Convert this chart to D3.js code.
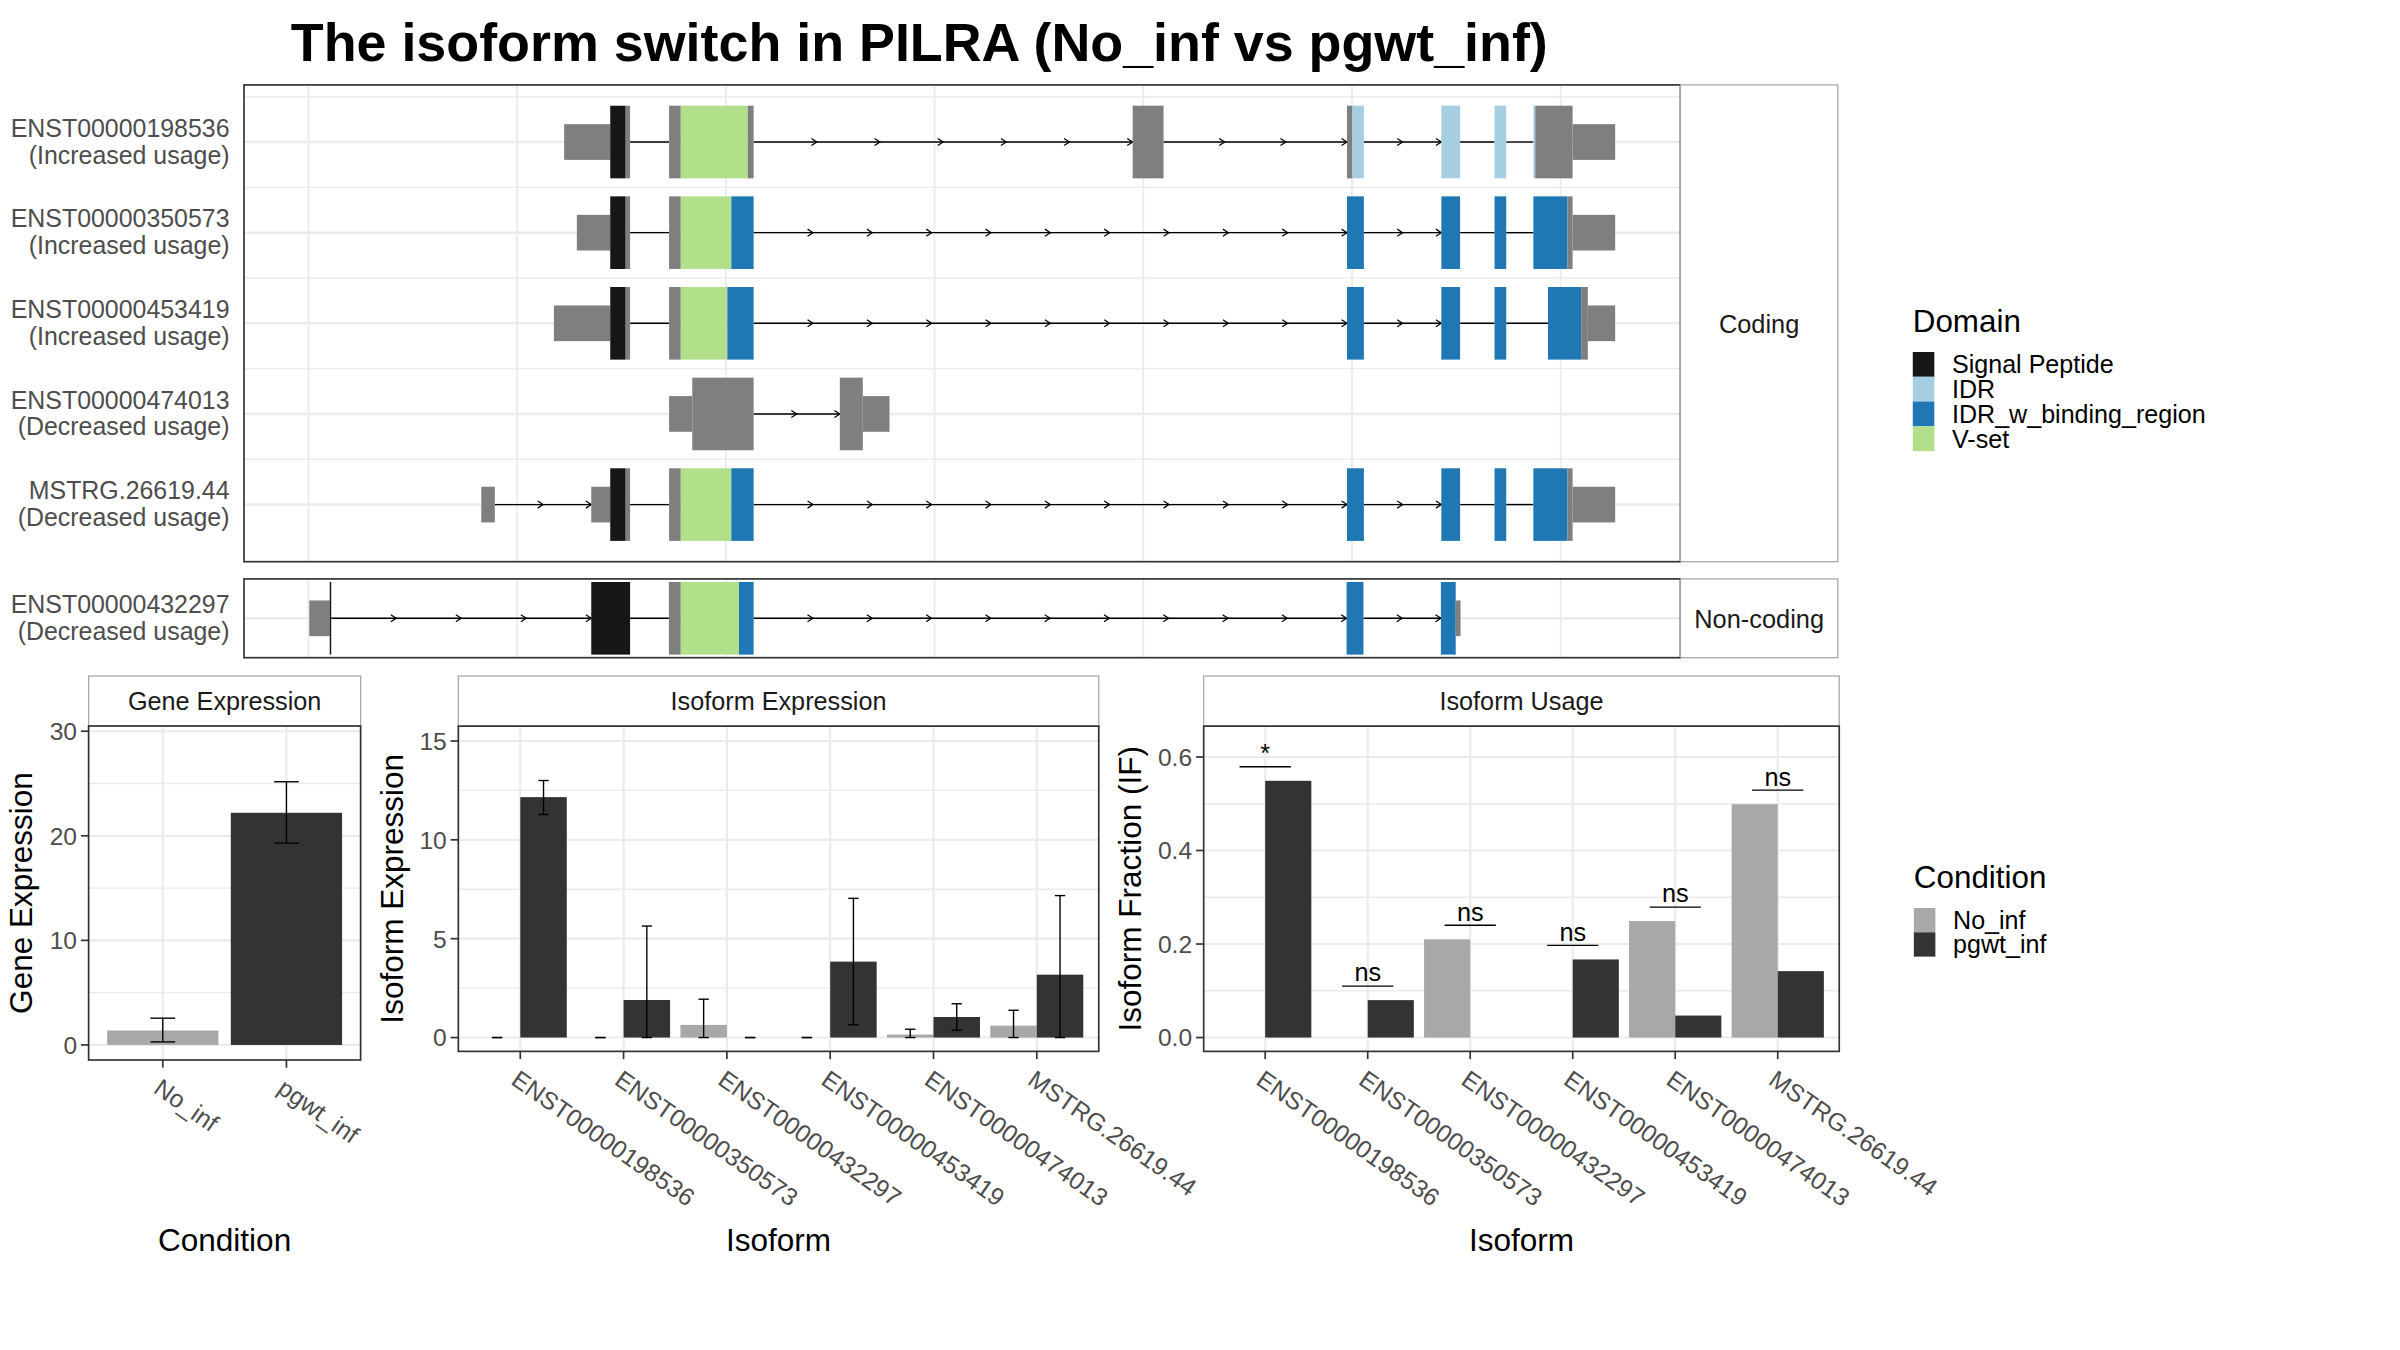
<!DOCTYPE html>
<html>
<head>
<meta charset="utf-8">
<script src="https://cdn.jsdelivr.net/npm/d3@7"></script>
<style>
  body { margin: 0; background: #fff; }
  text { font-family: "Liberation Sans", Arial, Helvetica, sans-serif; }
</style>
</head>
<body>
<svg id="chart"></svg>
<script>
// ---- data ----
const title = 'The isoform switch in PILRA (No_inf vs pgwt_inf)';

const conditions = ['No_inf', 'pgwt_inf'];
const conditionColors = ['#a8a8a8', '#333333'];

const domains = ['Signal Peptide', 'IDR', 'IDR_w_binding_region', 'V-set'];
const domainColors = ['#161616', '#a6cee3', '#1f78b4', '#b2df8a'];

// transcript structures, relative genomic coordinates, [start, end, part]
const codingTx = ['ENST00000198536', 'ENST00000350573', 'ENST00000453419', 'ENST00000474013', 'MSTRG.26619.44'];
const codingUsage = ['Increased usage', 'Increased usage', 'Increased usage', 'Decreased usage', 'Decreased usage'];
const nonCodingTx = ['ENST00000432297'];
const nonCodingUsage = ['Decreased usage'];
const genomeTicks = [0, 1000, 2000, 3000, 4000, 5000, 6000];

const exons198536 = [
  [[1225, 1446, 'utr'], [1446, 1520, 'Signal Peptide'], [1520, 1541, 'cds']],
  [[1728, 1784, 'cds'], [1784, 2105, 'V-set'], [2105, 2133, 'cds']],
  [[3949, 4097, 'cds']],
  [[4976, 5002, 'cds'], [5002, 5057, 'IDR']],
  [[5428, 5518, 'IDR']],
  [[5683, 5739, 'IDR']],
  [[5869, 5878, 'IDR'], [5878, 6057, 'cds'], [6057, 6261, 'utr']]
];
const exons350573 = [
  [[1286, 1446, 'utr'], [1446, 1520, 'Signal Peptide'], [1520, 1541, 'cds']],
  [[1728, 1784, 'cds'], [1784, 2026, 'V-set'], [2026, 2133, 'IDR_w_binding_region']],
  [[4976, 5057, 'IDR_w_binding_region']],
  [[5428, 5518, 'IDR_w_binding_region']],
  [[5683, 5739, 'IDR_w_binding_region']],
  [[5869, 6032, 'IDR_w_binding_region'], [6032, 6057, 'cds'], [6057, 6261, 'utr']]
];
const exons453419 = [
  [[1176, 1446, 'utr'], [1446, 1520, 'Signal Peptide'], [1520, 1541, 'cds']],
  [[1728, 1784, 'cds'], [1784, 2007, 'V-set'], [2007, 2133, 'IDR_w_binding_region']],
  [[4976, 5057, 'IDR_w_binding_region']],
  [[5428, 5518, 'IDR_w_binding_region']],
  [[5683, 5739, 'IDR_w_binding_region']],
  [[5939, 6098, 'IDR_w_binding_region'], [6098, 6130, 'cds'], [6130, 6261, 'utr']]
];
const exons474013 = [
  [[1728, 1839, 'utr'], [1839, 2133, 'cds']],
  [[2546, 2656, 'cds'], [2656, 2784, 'utr']]
];
const exonsMSTRG = [
  [[828, 893, 'utr']],
  [[1355, 1446, 'utr'], [1446, 1520, 'Signal Peptide'], [1520, 1541, 'cds']],
  [[1728, 1784, 'cds'], [1784, 2026, 'V-set'], [2026, 2133, 'IDR_w_binding_region']],
  [[4976, 5057, 'IDR_w_binding_region']],
  [[5428, 5518, 'IDR_w_binding_region']],
  [[5683, 5739, 'IDR_w_binding_region']],
  [[5869, 6032, 'IDR_w_binding_region'], [6032, 6057, 'cds'], [6057, 6261, 'utr']]
];
const exons432297 = [
  [[4, 102, 'utr'], [102, 109, 'Signal Peptide']],
  [[1355, 1541, 'Signal Peptide']],
  [[1727, 1784, 'cds'], [1784, 2063, 'V-set'], [2063, 2133, 'IDR_w_binding_region']],
  [[4974, 5055, 'IDR_w_binding_region']],
  [[5426, 5497, 'IDR_w_binding_region'], [5497, 5520, 'utr']]
];
const codingExons = [exons198536, exons350573, exons453419, exons474013, exonsMSTRG];
const nonCodingExons = [exons432297];

// gene expression
const geneExpr = [1.38, 22.2];
const geneLo = [0.29, 19.3];
const geneHi = [2.56, 25.17];
const geneTicks = [0, 10, 20, 30];

// isoform expression / usage
const isoforms = ['ENST00000198536', 'ENST00000350573', 'ENST00000432297', 'ENST00000453419', 'ENST00000474013', 'MSTRG.26619.44'];
const isoExprNo = [0, 0, 0.64, 0, 0.15, 0.60];
const isoExprNoLo = [0, 0, 0, 0, 0, 0];
const isoExprNoHi = [0, 0, 1.94, 0, 0.42, 1.38];
const isoExprPg = [12.16, 1.90, 0, 3.84, 1.04, 3.18];
const isoExprPgLo = [11.28, 0, 0, 0.64, 0.37, 0];
const isoExprPgHi = [13.0, 5.64, 0, 7.04, 1.71, 7.18];
const isoExprTicks = [0, 5, 10, 15];

const ifNo = [0, 0, 0.210, 0, 0.249, 0.499];
const ifPg = [0.549, 0.080, 0, 0.167, 0.047, 0.142];
const sigLabels = ['*', 'ns', 'ns', 'ns', 'ns', 'ns'];
const ifTicks = [0, 0.2, 0.4, 0.6];

// ---- layout (viewBox units, 1560 wide) ----
const W = 1560, H = 877.5;
const svg = d3.select('#chart')
  .attr('width', 2400).attr('height', 1350)
  .attr('viewBox', `0 0 ${W} ${H}`);
svg.append('rect').attr('width', W).attr('height', H).attr('fill', '#fff');

const GRID = '#ebebeb', BORDER = '#333333', STRIP = '#a6a6a6';
const TICKTXT = '#4d4d4d';

svg.append('text')
  .attr('x', 189).attr('y', 39.6)
  .attr('font-size', 35).attr('font-weight', 'bold').attr('fill', '#000')
  .text(title);

// ---- transcript structure panels ----
const txLeft = 158.6, txRight = 1092.3, stripRight = 1194.6;
const allParts = codingExons.concat(nonCodingExons).flat(2);
const gMin = d3.min(allParts, d => d[0]), gMax = d3.max(allParts, d => d[1]);
const gPad = (gMax - gMin) * 0.05;
const xg = d3.scaleLinear().domain([gMin - gPad, gMax + gPad]).range([txLeft, txRight]);
const THICK = 47.2, THIN = 23.2;

function partColor(p) {
  if (p === 'utr' || p === 'cds') return '#7f7f7f';
  return domainColors[domains.indexOf(p)];
}

function drawTxPanel(top, bottom, names, usage, structs, label) {
  const g = svg.append('g');
  const y = d3.scalePoint().domain(names).range([top, bottom]).padding(0.63);
  const step = names.length > 1 ? y.step() : 0;

  g.append('rect').attr('x', txLeft).attr('y', top).attr('width', txRight - txLeft)
    .attr('height', bottom - top).attr('fill', '#fff');
  if (names.length > 1) {
    g.selectAll(null).data(names).enter().append('line')
      .attr('x1', txLeft).attr('x2', txRight)
      .attr('y1', d => y(d) - step / 2).attr('y2', d => y(d) - step / 2)
      .attr('stroke', GRID).attr('stroke-width', 0.9);
  }
  g.selectAll(null).data(genomeTicks).enter().append('line')
    .attr('x1', d => xg(d)).attr('x2', d => xg(d))
    .attr('y1', top).attr('y2', bottom)
    .attr('stroke', GRID).attr('stroke-width', 1.2);
  g.selectAll(null).data(names).enter().append('line')
    .attr('x1', txLeft).attr('x2', txRight)
    .attr('y1', d => y(d)).attr('y2', d => y(d))
    .attr('stroke', GRID).attr('stroke-width', 1.6);

  names.forEach((name, i) => {
    const cy = y(name);
    const ex = structs[i];
    // introns with direction arrows
    for (let k = 0; k < ex.length - 1; k++) {
      const a = xg(ex[k][ex[k].length - 1][1]);
      const b = xg(ex[k + 1][0][0]);
      g.append('line').attr('x1', a).attr('x2', b).attr('y1', cy).attr('y2', cy)
        .attr('stroke', '#000').attr('stroke-width', 0.9);
      const len = b - a;
      const n = len > 45 ? Math.max(2, Math.round(len / 40)) : 0;
      for (let j = 1; j <= n; j++) {
        const ax = a + len * j / n;
        g.append('path')
          .attr('d', `M${ax - 3.5},${cy - 2.3}L${ax},${cy}L${ax - 3.5},${cy + 2.3}`)
          .attr('fill', 'none').attr('stroke', '#000').attr('stroke-width', 0.8);
      }
    }
    // exon parts
    ex.forEach(parts => {
      g.selectAll(null).data(parts).enter().append('rect')
        .attr('x', d => xg(d[0]))
        .attr('width', d => Math.max(0.8, xg(d[1]) - xg(d[0])))
        .attr('y', d => cy - (d[2] === 'utr' ? THIN : THICK) / 2)
        .attr('height', d => (d[2] === 'utr' ? THIN : THICK))
        .attr('fill', d => partColor(d[2]));
    });
    const t = g.append('text').attr('text-anchor', 'end').attr('font-size', 16.2)
      .attr('fill', TICKTXT);
    t.append('tspan').attr('x', 149.2).attr('y', cy - 3.4).text(name);
    t.append('tspan').attr('x', 149.2).attr('y', cy + 14).text('(' + usage[i] + ')');
  });

  g.append('rect').attr('x', txLeft).attr('y', top).attr('width', txRight - txLeft)
    .attr('height', bottom - top).attr('fill', 'none')
    .attr('stroke', BORDER).attr('stroke-width', 1.1);
  g.append('rect').attr('x', txRight).attr('y', top).attr('width', stripRight - txRight)
    .attr('height', bottom - top).attr('fill', '#fff')
    .attr('stroke', STRIP).attr('stroke-width', 0.8);
  g.append('text').attr('x', (txRight + stripRight) / 2).attr('y', (top + bottom) / 2 + 6)
    .attr('text-anchor', 'middle').attr('font-size', 16.5).attr('fill', '#1a1a1a')
    .text(label);
}

drawTxPanel(55.2, 365.1, codingTx, codingUsage, codingExons, 'Coding');
drawTxPanel(376.3, 427.5, nonCodingTx, nonCodingUsage, nonCodingExons, 'Non-coding');

// ---- bar panels ----
const STRIP_TOP = 439.4;

function barPanel(cfg) {
  const g = svg.append('g');
  const { x0, x1, y0, y1 } = cfg;
  const x = d3.scalePoint().domain(cfg.cats).range([x0, x1]).padding(0.6);
  const step = x.step();
  const y = d3.scaleLinear().domain(cfg.yDomain).range([y1, y0]);

  g.append('rect').attr('x', x0).attr('y', STRIP_TOP).attr('width', x1 - x0).attr('height', y0 - STRIP_TOP)
    .attr('fill', '#fff').attr('stroke', STRIP).attr('stroke-width', 0.8);
  g.append('text').attr('x', (x0 + x1) / 2).attr('y', (STRIP_TOP + y0) / 2 + 6)
    .attr('text-anchor', 'middle').attr('font-size', 16.4).attr('fill', '#1a1a1a')
    .text(cfg.strip);

  g.append('rect').attr('x', x0).attr('y', y0).attr('width', x1 - x0).attr('height', y1 - y0)
    .attr('fill', '#fff');
  g.selectAll(null).data(cfg.yMinor).enter().append('line')
    .attr('x1', x0).attr('x2', x1).attr('y1', d => y(d)).attr('y2', d => y(d))
    .attr('stroke', GRID).attr('stroke-width', 0.9);
  g.selectAll(null).data(cfg.yTicks).enter().append('line')
    .attr('x1', x0).attr('x2', x1).attr('y1', d => y(d)).attr('y2', d => y(d))
    .attr('stroke', GRID).attr('stroke-width', 1.4);
  g.selectAll(null).data(cfg.cats).enter().append('line')
    .attr('x1', d => x(d)).attr('x2', d => x(d)).attr('y1', y0).attr('y2', y1)
    .attr('stroke', GRID).attr('stroke-width', 1.4);

  cfg.marks(g, x, y, step);

  g.append('rect').attr('x', x0).attr('y', y0).attr('width', x1 - x0).attr('height', y1 - y0)
    .attr('fill', 'none').attr('stroke', BORDER).attr('stroke-width', 1.1);

  // y axis
  const fmt = cfg.yFormat || (d => d);
  g.selectAll(null).data(cfg.yTicks).enter().append('line')
    .attr('x1', x0 - 5).attr('x2', x0).attr('y1', d => y(d)).attr('y2', d => y(d))
    .attr('stroke', BORDER).attr('stroke-width', 1.1);
  g.selectAll(null).data(cfg.yTicks).enter().append('text')
    .attr('x', x0 - 7.5).attr('y', d => y(d)).attr('dy', '0.36em')
    .attr('text-anchor', 'end').attr('font-size', 16).attr('fill', TICKTXT)
    .text(fmt);
  g.append('text')
    .attr('transform', `translate(${cfg.yTitleX},${(y0 + y1) / 2}) rotate(-90)`)
    .attr('text-anchor', 'middle').attr('font-size', 20.5).attr('fill', '#000')
    .text(cfg.yTitle);

  // x axis
  g.selectAll(null).data(cfg.cats).enter().append('line')
    .attr('x1', d => x(d)).attr('x2', d => x(d)).attr('y1', y1).attr('y2', y1 + 5)
    .attr('stroke', BORDER).attr('stroke-width', 1.1);
  g.selectAll(null).data(cfg.cats).enter().append('text')
    .attr('transform', d => `translate(${x(d)},${y1 + 11}) rotate(35)`)
    .attr('dy', '0.74em').attr('font-size', 16).attr('fill', TICKTXT)
    .text(d => d);
  g.append('text').attr('x', (x0 + x1) / 2).attr('y', 813)
    .attr('text-anchor', 'middle').attr('font-size', 20.5).attr('fill', '#000')
    .text(cfg.xTitle);
}

function errorBars(g, xs, lo, hi, w, y) {
  xs.forEach((cx, i) => {
    g.append('line').attr('x1', cx).attr('x2', cx).attr('y1', y(lo[i])).attr('y2', y(hi[i]))
      .attr('stroke', '#000').attr('stroke-width', 0.9);
    [lo[i], hi[i]].forEach(v => {
      g.append('line').attr('x1', cx - w / 2).attr('x2', cx + w / 2)
        .attr('y1', y(v)).attr('y2', y(v))
        .attr('stroke', '#000').attr('stroke-width', 0.9);
    });
  });
}

// Gene expression
barPanel({
  x0: 57.6, x1: 234.4, y0: 471.9, y1: 689,
  strip: 'Gene Expression', cats: conditions,
  yDomain: [-1.44, 30.5], yTicks: geneTicks, yMinor: [5, 15, 25],
  yTitle: 'Gene Expression', yTitleX: 21, xTitle: 'Condition',
  marks: (g, x, y, step) => {
    g.selectAll(null).data(conditions).enter().append('rect')
      .attr('x', d => x(d) - 0.45 * step).attr('width', 0.9 * step)
      .attr('y', (d, i) => y(geneExpr[i])).attr('height', (d, i) => y(0) - y(geneExpr[i]))
      .attr('fill', (d, i) => conditionColors[i]);
    errorBars(g, conditions.map(d => x(d)), geneLo, geneHi, 0.2 * step, y);
  }
});

// Isoform expression
barPanel({
  x0: 297.9, x1: 714.2, y0: 472, y1: 683.4,
  strip: 'Isoform Expression', cats: isoforms,
  yDomain: [-0.70, 15.75], yTicks: isoExprTicks, yMinor: [2.5, 7.5, 12.5],
  yTitle: 'Isoform Expression', yTitleX: 262, xTitle: 'Isoform',
  marks: (g, x, y, step) => {
    const series = [
      { v: isoExprNo, lo: isoExprNoLo, hi: isoExprNoHi, off: -0.225, c: conditionColors[0] },
      { v: isoExprPg, lo: isoExprPgLo, hi: isoExprPgHi, off: 0.225, c: conditionColors[1] }
    ];
    series.forEach(s => {
      g.selectAll(null).data(isoforms).enter().append('rect')
        .attr('x', d => x(d) + (s.off - 0.225) * step).attr('width', 0.45 * step)
        .attr('y', (d, i) => y(s.v[i])).attr('height', (d, i) => y(0) - y(s.v[i]))
        .attr('fill', s.c);
    });
    series.forEach(s => {
      errorBars(g, isoforms.map(d => x(d) + s.off * step), s.lo, s.hi, 0.1 * step, y);
    });
  }
});

// Isoform usage
barPanel({
  x0: 782.4, x1: 1195.5, y0: 472, y1: 683.4,
  strip: 'Isoform Usage', cats: isoforms,
  yDomain: [-0.0296, 0.6659], yTicks: ifTicks, yMinor: [0.1, 0.3, 0.5],
  yFormat: d3.format('.1f'),
  yTitle: 'Isoform Fraction (IF)', yTitleX: 741.8, xTitle: 'Isoform',
  marks: (g, x, y, step) => {
    [ifNo, ifPg].forEach((vals, k) => {
      const off = k === 0 ? -0.45 : 0;
      g.selectAll(null).data(isoforms).enter().append('rect')
        .attr('x', d => x(d) + off * step).attr('width', 0.45 * step)
        .attr('y', (d, i) => y(vals[i])).attr('height', (d, i) => y(0) - y(vals[i]))
        .attr('fill', conditionColors[k]);
    });
    isoforms.forEach((d, i) => {
      const ly = y(Math.max(ifNo[i], ifPg[i]) + 0.03);
      g.append('line').attr('x1', x(d) - 0.25 * step).attr('x2', x(d) + 0.25 * step)
        .attr('y1', ly).attr('y2', ly).attr('stroke', '#000').attr('stroke-width', 0.9);
      g.append('text').attr('x', x(d)).attr('y', ly - 3)
        .attr('text-anchor', 'middle').attr('font-size', 16.4).attr('fill', '#000')
        .text(sigLabels[i]);
    });
  }
});

// ---- legends ----
function legend(x, titleY, keyTop, keyH, names, colors, ttl) {
  const g = svg.append('g');
  g.append('text').attr('x', x).attr('y', titleY).attr('font-size', 20.4).attr('fill', '#000').text(ttl);
  names.forEach((n, i) => {
    g.append('rect').attr('x', x).attr('y', keyTop + i * keyH).attr('width', 14).attr('height', keyH)
      .attr('fill', colors[i]);
    g.append('text').attr('x', x + 25.5).attr('y', keyTop + i * keyH + keyH / 2).attr('dy', '0.36em')
      .attr('font-size', 16.3).attr('fill', '#000').text(n);
  });
}
legend(1243.3, 216.1, 228.8, 16.1, domains, domainColors, 'Domain');
legend(1244, 577.5, 590.2, 15.8, conditions, conditionColors, 'Condition');
</script>
</body>
</html>
